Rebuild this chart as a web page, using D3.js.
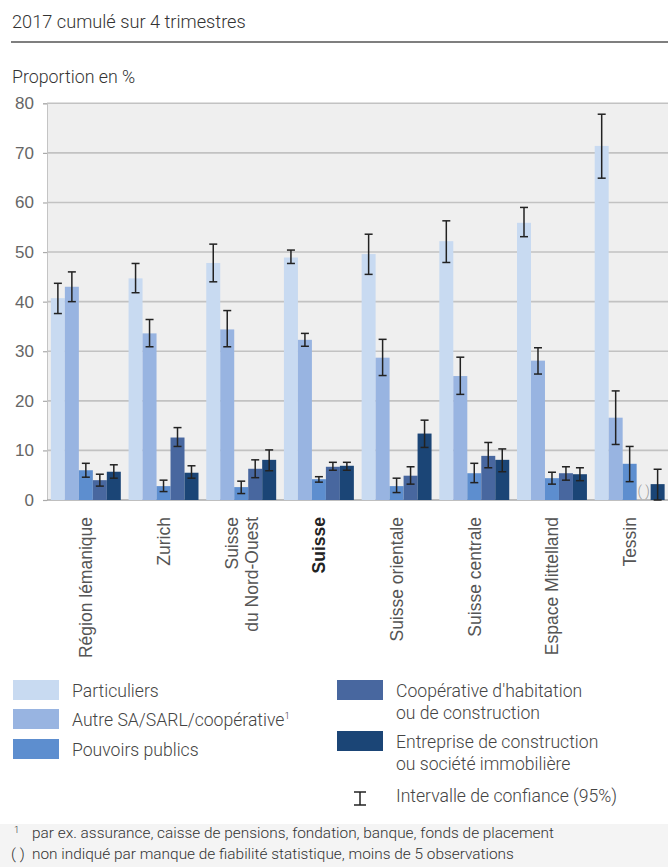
<!DOCTYPE html>
<html>
<head>
<meta charset="utf-8">
<script src="https://cdn.jsdelivr.net/npm/d3@7"></script>
<style>
  html, body { margin: 0; padding: 0; background: #fff; }
  svg { display: block; }
</style>
</head>
<body>
<svg id="chart" width="668" height="867"></svg>
<script>
// Regions (x axis) and label lines
const categories = ["Région lémanique", "Zurich", "Suisse du Nord-Ouest", "Suisse",
  "Suisse orientale", "Suisse centrale", "Espace Mittelland", "Tessin"];
const categoryLines = [["Région lémanique"], ["Zurich"], ["Suisse", "du Nord-Ouest"], ["Suisse"],
  ["Suisse orientale"], ["Suisse centrale"], ["Espace Mittelland"], ["Tessin"]];
const boldCategory = "Suisse";

// Owner types (series)
const seriesNames = ["Particuliers", "Autre SA/SARL/coopérative", "Pouvoirs publics",
  "Coopérative d'habitation ou de construction", "Entreprise de construction ou société immobilière"];
const seriesColors = ["#c8daf1", "#98b4e1", "#5d8ecf", "#48679f", "#1b4576"];

// Proportion en %, with 95% confidence interval bounds (null = not shown)
const particuliers     = [40.7, 44.7, 47.8, 48.9, 49.6, 52.2, 55.9, 71.4];
const particuliersLow  = [37.6, 41.8, 44.0, 47.7, 45.5, 47.9, 53.1, 64.9];
const particuliersHigh = [43.7, 47.7, 51.6, 50.4, 53.6, 56.3, 59.0, 77.8];

const autre     = [43.0, 33.6, 34.4, 32.3, 28.7, 25.0, 28.1, 16.6];
const autreLow  = [40.0, 30.9, 30.9, 31.0, 25.1, 21.3, 25.4, 11.2];
const autreHigh = [46.0, 36.4, 38.2, 33.6, 32.4, 28.8, 30.7, 22.0];

const pouvoirs     = [6.0, 2.8, 2.6, 4.2, 2.8, 5.4, 4.4, 7.3];
const pouvoirsLow  = [4.6, 1.7, 1.3, 3.6, 1.5, 3.5, 3.2, 3.7];
const pouvoirsHigh = [7.4, 4.0, 3.8, 4.7, 4.4, 7.4, 5.6, 10.8];

const cooperative     = [4.0, 12.6, 6.3, 6.7, 4.9, 8.9, 5.4, null];
const cooperativeLow  = [2.8, 10.8, 4.5, 6.0, 3.2, 6.5, 4.0, null];
const cooperativeHigh = [5.2, 14.6, 8.1, 7.6, 6.7, 11.6, 6.7, null];

const entreprise     = [5.7, 5.5, 8.1, 6.9, 13.4, 8.1, 5.2, 3.2];
const entrepriseLow  = [4.4, 4.4, 5.9, 6.0, 10.6, 5.7, 3.9, 0.0];
const entrepriseHigh = [7.1, 6.9, 10.1, 7.6, 16.1, 10.3, 6.5, 6.2];

const yTicks = [0, 10, 20, 30, 40, 50, 60, 70, 80];

const seriesValues = [particuliers, autre, pouvoirs, cooperative, entreprise];
const seriesLow = [particuliersLow, autreLow, pouvoirsLow, cooperativeLow, entrepriseLow];
const seriesHigh = [particuliersHigh, autreHigh, pouvoirsHigh, cooperativeHigh, entrepriseHigh];

const svg = d3.select("#chart");
const sans = "Roboto, 'Noto Sans', sans-serif";
const arial = "'Liberation Sans', Arial, sans-serif";

// Header
svg.append("text").attr("x", 12).attr("y", 28)
  .style("font-family", sans).style("font-weight", 300).style("font-size", "18.2px")
  .attr("fill", "#333").text("2017 cumulé sur 4 trimestres");
svg.append("line").attr("x1", 11).attr("x2", 668).attr("y1", 42).attr("y2", 42)
  .attr("stroke", "#555").attr("stroke-width", 1.6);
svg.append("text").attr("x", 12).attr("y", 83)
  .style("font-family", sans).style("font-weight", 300).style("font-size", "17.8px")
  .attr("fill", "#333").text("Proportion en %");

// Scales
const plotLeft = 47, plotRight = 668.5, plotTop = 103.3, plotBottom = 500;
const x = d3.scaleBand().domain(categories).range([plotLeft, plotRight])
  .paddingInner(0.1).paddingOuter(0.05);
const xs = d3.scaleBand().domain(d3.range(seriesNames.length)).range([0, x.bandwidth()]);
const y = d3.scaleLinear().domain([0, 80]).range([plotBottom, plotTop]);

// Plot background
svg.append("rect").attr("x", plotLeft).attr("y", y(80)).attr("width", plotRight - plotLeft)
  .attr("height", y(0) - y(80)).attr("fill", "#efefef");

// Y axis with gridlines
const yAxis = svg.append("g").attr("transform", `translate(${plotLeft},0)`)
  .call(d3.axisLeft(y).tickValues(yTicks).tickSize(4).tickPadding(9));
yAxis.select(".domain").attr("stroke", "#c4c4c4").attr("stroke-width", 1);
yAxis.selectAll(".tick line").attr("stroke", "#aaa").attr("stroke-width", 1.2);
yAxis.selectAll(".tick text").style("font-family", arial).style("font-size", "17px")
  .attr("fill", "#666");
svg.append("g").selectAll("line").data(yTicks).join("line")
  .attr("x1", plotLeft).attr("x2", plotRight)
  .attr("y1", d => y(d)).attr("y2", d => y(d))
  .attr("stroke", d => d === 0 ? "#aaa" : "#c2c2c2").attr("stroke-width", 1.6);

// Bars
const flat = [];
categories.forEach((c, ci) => {
  seriesValues.forEach((vals, si) => {
    flat.push({ c, ci, si, v: vals[ci], lo: seriesLow[si][ci], hi: seriesHigh[si][ci] });
  });
});
const shown = flat.filter(d => d.v !== null);

svg.append("g").selectAll("rect").data(shown).join("rect")
  .attr("x", d => x(d.c) + xs(d.si))
  .attr("y", d => y(d.v))
  .attr("width", xs.bandwidth())
  .attr("height", d => y(0) - y(d.v))
  .attr("fill", d => seriesColors[d.si]);

// Missing value marker
svg.append("g").selectAll("text").data(flat.filter(d => d.v === null)).join("text")
  .attr("x", d => x(d.c) + xs(d.si) + xs.bandwidth() / 2)
  .attr("y", y(0) - 4)
  .attr("text-anchor", "middle")
  .style("font-family", sans).style("font-weight", 300).style("font-size", "14px")
  .attr("fill", "#999").text("( )");

// Confidence intervals
const ciGroup = svg.append("g").attr("stroke", "#222").attr("stroke-width", 1.5);
shown.forEach(d => {
  const cx = x(d.c) + xs(d.si) + xs.bandwidth() / 2;
  ciGroup.append("line").attr("x1", cx).attr("x2", cx).attr("y1", y(d.hi)).attr("y2", y(d.lo));
  ciGroup.append("line").attr("x1", cx - 4).attr("x2", cx + 4).attr("y1", y(d.hi)).attr("y2", y(d.hi));
  ciGroup.append("line").attr("x1", cx - 4).attr("x2", cx + 4).attr("y1", y(d.lo)).attr("y2", y(d.lo));
});

// Category labels, rotated
const labels = svg.append("g");
categories.forEach((c, i) => {
  const lines = categoryLines[i];
  const cx = x(c) + x.bandwidth() / 2;
  lines.forEach((t, li) => {
    const off = (li - (lines.length - 1) / 2) * 20;
    labels.append("text")
      .attr("transform", `translate(${cx + off},517) rotate(-90)`)
      .attr("text-anchor", "end").attr("dy", "0.36em")
      .style("font-family", arial).style("font-size", "17.5px")
      .style("font-weight", c === boldCategory ? 700 : 400)
      .attr("fill", c === boldCategory ? "#222" : "#555").text(t);
  });
});

// Legend
const legendItems = [
  { si: 0, x: 13, y: 680, lines: ["Particuliers"] },
  { si: 1, x: 13, y: 709, lines: ["Autre SA/SARL/coopérative"], sup: "1" },
  { si: 2, x: 13, y: 739, lines: ["Pouvoirs publics"] },
  { si: 3, x: 337, y: 680, lines: ["Coopérative d'habitation", "ou de construction"] },
  { si: 4, x: 337, y: 731, lines: ["Entreprise de construction", "ou société immobilière"] }
];
const lg = svg.append("g");
legendItems.forEach(it => {
  lg.append("rect").attr("x", it.x).attr("y", it.y).attr("width", 46).attr("height", 20)
    .attr("fill", seriesColors[it.si]);
  it.lines.forEach((t, li) => {
    const tx = lg.append("text").attr("x", it.x + 59).attr("y", it.y + 17 + li * 22)
      .style("font-family", sans).style("font-weight", 300).style("font-size", "17.6px")
      .attr("fill", "#444").text(t);
    if (it.sup && li === 0) {
      tx.append("tspan").attr("dy", -7).style("font-size", "9.5px").text(it.sup);
    }
  });
});
// Confidence interval key
const kx = 360, ky1 = 792, ky2 = 805;
lg.append("line").attr("x1", kx).attr("x2", kx).attr("y1", ky1).attr("y2", ky2)
  .attr("stroke", "#222").attr("stroke-width", 1.5);
[ky1, ky2].forEach(yy => lg.append("line").attr("x1", kx - 6).attr("x2", kx + 6)
  .attr("y1", yy).attr("y2", yy).attr("stroke", "#222").attr("stroke-width", 1.5));
lg.append("text").attr("x", 396).attr("y", 802)
  .style("font-family", sans).style("font-weight", 300).style("font-size", "17.6px")
  .attr("fill", "#444").text("Intervalle de confiance (95%)");

// Footnotes
svg.append("rect").attr("x", 0).attr("y", 824).attr("width", 668).attr("height", 43)
  .attr("fill", "#f4f4f4");
const fn = svg.append("g").style("font-family", sans).style("font-weight", 300)
  .style("font-size", "15.4px").attr("fill", "#333");
fn.append("text").attr("x", 14).attr("y", 833).style("font-size", "9.5px").text("1");
fn.append("text").attr("x", 32).attr("y", 838)
  .text("par ex. assurance, caisse de pensions, fondation, banque, fonds de placement");
fn.append("text").attr("x", 11).attr("y", 859).text("( )");
fn.append("text").attr("x", 32).attr("y", 859)
  .text("non indiqué par manque de fiabilité statistique, moins de 5 observations");
</script>
</body>
</html>
